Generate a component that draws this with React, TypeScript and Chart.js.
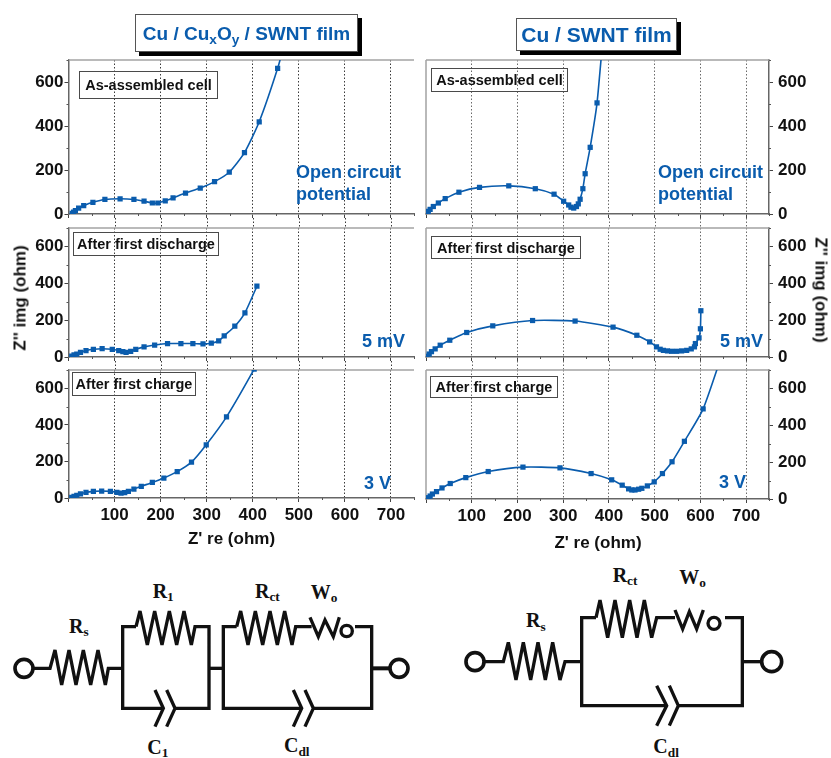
import React, { useEffect, useRef } from "react";
import { Chart, registerables } from "chart.js";

Chart.register(...registerables);

const BLUE = "#0a5cad";
const SANS = "'Liberation Sans', Arial, sans-serif";
const SERIF = "'Liberation Serif', 'Times New Roman', serif";

const xMinorTicks = [50, 150, 250, 350, 450, 550, 650, 750];
const yMinorTicks = [100, 300, 500, 700];

const oxideAssembledX = [8, 11, 15, 22, 33, 53, 79, 112, 142, 164, 182, 194, 210, 227, 254, 286, 317, 349, 382, 414, 454, 472];
const oxideAssembledY = [3, 9, 15, 27, 38, 53, 66, 69, 66, 58, 50, 50, 60, 73, 95, 118, 147, 190, 279, 419, 662, 800];

const oxideDischargeX = [7, 12, 18, 26, 38, 54, 73, 95, 109, 118, 125, 135, 146, 164, 187, 215, 244, 270, 292, 310, 326, 338, 361, 383, 409];
const oxideDischargeY = [5, 11, 16, 25, 35, 42, 45, 42, 35, 29, 25, 31, 42, 55, 65, 73, 73, 73, 71, 75, 87, 115, 167, 240, 384];

const oxideChargeX = [7, 12, 18, 26, 38, 54, 72, 91, 105, 114, 122, 130, 142, 158, 182, 207, 236, 267, 299, 343, 403, 430];
const oxideChargeY = [4, 9, 15, 22, 31, 36, 38, 36, 31, 27, 29, 36, 49, 64, 85, 109, 144, 196, 291, 444, 705, 840];

const bareAssembledX = [2, 5, 9, 16, 27, 42, 72, 117, 181, 239, 280, 301, 312, 317, 323, 329, 333, 337, 343, 348, 359, 374, 395];
const bareAssembledY = [3, 12, 21, 34, 50, 70, 99, 121, 128, 115, 90, 58, 41, 31, 27, 34, 46, 67, 115, 183, 303, 505, 1000];

const bareDischargeX = [2, 7, 12, 20, 31, 52, 89, 146, 233, 326, 409, 461, 489, 504, 512, 519, 528, 537, 548, 559, 570, 580, 587, 589, 597, 600, 601];
const bareDischargeY = [4, 16, 29, 44, 64, 91, 133, 169, 198, 195, 162, 118, 82, 55, 42, 36, 33, 31, 31, 33, 36, 44, 55, 73, 104, 153, 251];

const bareChargeX = [5, 9, 14, 23, 35, 53, 87, 136, 212, 293, 361, 406, 429, 443, 450, 457, 465, 472, 484, 499, 517, 538, 565, 606, 660];
const bareChargeY = [7, 16, 27, 40, 60, 84, 116, 149, 173, 169, 138, 104, 75, 55, 49, 49, 53, 58, 71, 93, 138, 202, 313, 489, 880];

type PanelSpec = {
  side: "left" | "right";
  top: number;
  bottom: number;
  xs: number[];
  ys: number[];
  xLabels: boolean;
  gap: number;
};

const panels: PanelSpec[] = [
  { side: "left", top: 60, bottom: 214, xs: oxideAssembledX, ys: oxideAssembledY, xLabels: false, gap: 14 },
  { side: "left", top: 228, bottom: 357, xs: oxideDischargeX, ys: oxideDischargeY, xLabels: false, gap: 13 },
  { side: "left", top: 370, bottom: 498, xs: oxideChargeX, ys: oxideChargeY, xLabels: true, gap: 0 },
  { side: "right", top: 60, bottom: 214, xs: bareAssembledX, ys: bareAssembledY, xLabels: false, gap: 14 },
  { side: "right", top: 228, bottom: 357, xs: bareDischargeX, ys: bareDischargeY, xLabels: false, gap: 13 },
  { side: "right", top: 370, bottom: 499, xs: bareChargeX, ys: bareChargeY, xLabels: true, gap: 0 },
];

function Panel({ spec }: { spec: PanelSpec }) {
  const ref = useRef<HTMLCanvasElement>(null);
  const isLeft = spec.side === "left";
  const canvasLeft = isLeft ? 0 : 415;
  const canvasWidth = isLeft ? 430 : 416;
  const padTop = 6;
  const under = 32;
  const canvasHeight = spec.bottom - spec.top + padTop + under;
  const gridColor = isLeft ? "#3a3a3a" : "#6a6a6a";

  useEffect(() => {
    const frame = {
      id: "panelFrame",
      beforeDatasetsDraw(chart: any) {
        const { ctx, chartArea: a, scales } = chart;
        ctx.save();
        ctx.strokeStyle = "#a3a3a3";
        ctx.lineWidth = 1.5;
        ctx.beginPath();
        ctx.moveTo(a.left, a.top);
        ctx.lineTo(a.right, a.top);
        if (!isLeft) {
          ctx.moveTo(a.left, a.top);
          ctx.lineTo(a.left, a.bottom);
        }
        ctx.stroke();
        ctx.strokeStyle = "#555";
        ctx.lineWidth = 1;
        ctx.beginPath();
        xMinorTicks.forEach((v) => {
          const p = Math.round(scales.x.getPixelForValue(v)) + 0.5;
          ctx.moveTo(p, a.bottom);
          ctx.lineTo(p, a.bottom + 2);
        });
        yMinorTicks.forEach((v) => {
          const p = Math.round(scales.y.getPixelForValue(v)) + 0.5;
          const edge = isLeft ? a.left : a.right;
          ctx.moveTo(edge, p);
          ctx.lineTo(edge + (isLeft ? -2 : 2), p);
        });
        ctx.stroke();
        if (spec.gap > 0) {
          ctx.strokeStyle = gridColor;
          ctx.setLineDash([1.5, 2]);
          ctx.beginPath();
          scales.x.ticks.forEach((t: any) => {
            if (t.value === 0) return;
            const p = Math.round(scales.x.getPixelForValue(t.value)) + 0.5;
            ctx.moveTo(p, a.bottom + 4);
            ctx.lineTo(p, a.bottom + spec.gap);
          });
          ctx.stroke();
        }
        ctx.restore();
      },
    };

    const chart = new Chart(ref.current as HTMLCanvasElement, {
      type: "scatter",
      plugins: [frame],
      data: {
        datasets: [
          {
            data: spec.xs.map((x, i) => ({ x, y: spec.ys[i] })),
            showLine: true,
            tension: 0.2,
            borderColor: BLUE,
            backgroundColor: BLUE,
            borderWidth: 1.6,
            pointStyle: "rect",
            pointRadius: 3.7,
            pointBorderWidth: 0,
          },
        ],
      },
      options: {
        animation: false,
        responsive: false,
        layout: {
          padding: { top: padTop, bottom: 0, left: isLeft ? 0 : 11, right: isLeft ? 16 : 0 },
        },
        plugins: { legend: { display: false }, tooltip: { enabled: false } },
        scales: {
          x: {
            type: "linear",
            min: 0,
            max: 750,
            afterFit: (s: any) => {
              s.height = under;
              s.paddingLeft = 0;
              s.paddingRight = 0;
            },
            border: { color: "#666", width: 1.5, dash: [1.5, 2] },
            grid: {
              color: (c: any) => (c.tick && c.tick.value === 0 ? "rgba(0,0,0,0)" : gridColor),
              tickColor: "#444",
              tickLength: 4,
              tickBorderDash: [],
              lineWidth: 1,
            },
            ticks: {
              stepSize: 100,
              includeBounds: false,
              autoSkip: false,
              maxRotation: 0,
              padding: 3,
              color: "#111",
              font: { family: SANS, size: 17, weight: "bold" },
              callback: (v: any) => (spec.xLabels && v !== 0 ? String(v) : ""),
            },
          },
          y: {
            type: "linear",
            position: isLeft ? "left" : "right",
            min: 0,
            max: 700,
            afterFit: (s: any) => {
              s.width = isLeft ? 68.5 : 62;
              s.paddingTop = 0;
              s.paddingBottom = 0;
            },
            border: { color: "#666", width: 1.5 },
            grid: { drawOnChartArea: false, tickColor: "#444", tickLength: 4 },
            ticks: {
              stepSize: 200,
              includeBounds: false,
              padding: isLeft ? 1 : 5,
              color: "#111",
              font: { family: SANS, size: 17, weight: "bold" },
            },
          },
        },
      },
    } as any);
    return () => chart.destroy();
  }, []);

  return (
    <canvas
      ref={ref}
      width={canvasWidth}
      height={canvasHeight}
      style={{
        position: "absolute",
        left: canvasLeft,
        top: spec.top - padTop,
        width: canvasWidth,
        height: canvasHeight,
      }}
    />
  );
}

function Txt(props: { x: number; y: number; c?: string; size?: number; children: React.ReactNode; center?: boolean; rot?: number }) {
  const { x, y, c = BLUE, size = 18, center, rot, children } = props;
  const tr = `${center ? "translate(-50%,-50%)" : "translateY(-50%)"}${rot ? ` rotate(${rot}deg)` : ""}`;
  return (
    <div
      style={{
        position: "absolute",
        left: x,
        top: y,
        color: c,
        fontFamily: SANS,
        fontWeight: "bold",
        fontSize: size,
        lineHeight: 1,
        whiteSpace: "nowrap",
        transform: tr,
      }}
    >
      {children}
    </div>
  );
}

function LabelBox(props: { l: number; t: number; r: number; b: number; text: string }) {
  const { l, t, r, b, text } = props;
  return (
    <div
      style={{
        position: "absolute",
        left: l,
        top: t,
        width: r - l,
        height: b - t,
        boxSizing: "border-box",
        border: "1.5px solid #4a4a4a",
        display: "flex",
        alignItems: "center",
        justifyContent: "center",
        color: "#111",
        fontFamily: SANS,
        fontWeight: "bold",
        fontSize: 14.5,
        whiteSpace: "nowrap",
      }}
    >
      {text}
    </div>
  );
}

function TitleBox(props: { l: number; t: number; r: number; b: number; size: number; children: React.ReactNode }) {
  const { l, t, r, b, size, children } = props;
  return (
    <div
      style={{
        position: "absolute",
        left: l,
        top: t,
        width: r - l,
        height: b - t,
        boxSizing: "border-box",
        background: "#fff",
        border: "1px solid #555",
        boxShadow: "4px 4px 0 #000",
        display: "flex",
        alignItems: "center",
        justifyContent: "center",
        color: BLUE,
        fontFamily: SANS,
        fontWeight: "bold",
        fontSize: size,
        lineHeight: 1,
        whiteSpace: "nowrap",
      }}
    >
      <span>{children}</span>
    </div>
  );
}

const subStyle: React.CSSProperties = { fontSize: "0.72em", verticalAlign: "-0.28em", lineHeight: 0 };

function CircuitLabel(props: { x: number; y: number; main: string; sub: string }) {
  return (
    <text x={props.x} y={props.y} fontFamily={SERIF} fontWeight="bold" fontSize={60} fill="#111">
      {props.main}
      <tspan fontSize={40} dy={10}>
        {props.sub}
      </tspan>
    </text>
  );
}

const wire = { fill: "none", stroke: "#111", strokeWidth: 10, strokeLinejoin: "miter" as const };

function LeftCircuit() {
  return (
    <svg viewBox="0 0 1260 609" width={420} height={203} style={{ position: "absolute", left: 0, top: 555 }}>
      <g {...wire}>
        <circle cx={72} cy={340} r={27} strokeWidth={11} />
        <path d="M99 340H150L165 285L185 390L207 285L228 390L250 285L272 390L294 285L316 390L325 340H368" />
        <path d="M408 215H368V460H490" />
        <path d="M408 215L420 168L442 270L464 168L486 270L508 168L530 270L552 168L574 270L585 215H627V460H525" />
        <path d="M465 405L490 460L465 515M500 405L525 460L500 515" />
        <path d="M627 340H670" />
        <path d="M710 215H670V460H905" />
        <path d="M710 215L722 168L744 270L766 168L788 270L810 168L832 270L854 168L876 270L887 215H935" />
        <path d="M930 187L955 245L975 195L1000 245L1018 187" />
        <circle cx={1040} cy={228} r={17} />
        <path d="M1065 215H1115V460H940" />
        <path d="M880 405L905 460L880 515M915 405L940 460L915 515" />
        <path d="M1115 340H1170" strokeWidth={12} />
        <circle cx={1197} cy={340} r={27} strokeWidth={11} />
      </g>
      <CircuitLabel x={207} y={233} main="R" sub="s" />
      <CircuitLabel x={458} y={128} main="R" sub="1" />
      <CircuitLabel x={765} y={128} main="R" sub="ct" />
      <CircuitLabel x={932} y={132} main="W" sub="o" />
      <CircuitLabel x={442} y={597} main="C" sub="1" />
      <CircuitLabel x={852} y={592} main="C" sub="dl" />
    </svg>
  );
}

function RightCircuit() {
  return (
    <svg viewBox="0 0 1173 609" width={391} height={203} style={{ position: "absolute", left: 440, top: 555 }}>
      <g {...wire}>
        <circle cx={105} cy={320} r={27} strokeWidth={11} />
        <path d="M132 320H190L205 262L228 375L250 262L272 375L294 262L316 375L338 262L360 375L375 320H425" />
        <path d="M468 188H425V452H680" />
        <path d="M468 188L480 135L503 248L525 135L547 248L569 135L591 248L613 135L635 248L650 188H705" />
        <path d="M705 165L728 222L748 170L770 222L790 165" />
        <circle cx={822} cy={205} r={18} />
        <path d="M855 188H907V452H715" />
        <path d="M650 392L680 452L650 512M688 392L715 452L688 512" />
        <path d="M907 320H965" />
        <circle cx={995} cy={320} r={30} strokeWidth={11} />
      </g>
      <CircuitLabel x={258} y={217} main="R" sub="s" />
      <CircuitLabel x={518} y={80} main="R" sub="ct" />
      <CircuitLabel x={718} y={86} main="W" sub="o" />
      <CircuitLabel x={640} y={595} main="C" sub="dl" />
    </svg>
  );
}

export default function App() {
  return (
    <div style={{ position: "absolute", left: 0, top: 0, width: 831, height: 758, background: "#fff", overflow: "hidden" }}>
      {panels.map((p, i) => (
        <Panel key={i} spec={p} />
      ))}

      <TitleBox l={135} t={14} r={358} b={52} size={19}>
        Cu / Cu<sub style={subStyle}>x</sub>O<sub style={subStyle}>y</sub> / SWNT film
      </TitleBox>
      <TitleBox l={516} t={18} r={677} b={51} size={21}>
        Cu / SWNT film
      </TitleBox>

      <LabelBox l={79} t={71} r={218} b={99} text="As-assembled cell" />
      <LabelBox l={431} t={68} r={568} b={92} text="As-assembled cell" />
      <LabelBox l={73} t={232} r={219} b={256} text="After first discharge" />
      <LabelBox l={431} t={236} r={581} b={259} text="After first discharge" />
      <LabelBox l={72} t={372} r={196} b={396} text="After first charge" />
      <LabelBox l={430} t={376} r={558} b={398} text="After first charge" />

      <Txt x={296} y={172}>Open circuit</Txt>
      <Txt x={296} y={194}>potential</Txt>
      <Txt x={658} y={172}>Open circuit</Txt>
      <Txt x={658} y={194}>potential</Txt>
      <Txt x={362} y={341}>5 mV</Txt>
      <Txt x={720} y={341}>5 mV</Txt>
      <Txt x={364} y={483}>3 V</Txt>
      <Txt x={719} y={482}>3 V</Txt>

      <Txt x={231.5} y={538} c="#111" size={17} center>Z' re (ohm)</Txt>
      <Txt x={598} y={542} c="#111" size={17} center>Z' re (ohm)</Txt>
      <Txt x={20} y={298} c="#111" size={17} center rot={-90}>Z'' img (ohm)</Txt>
      <Txt x={821} y={290} c="#111" size={17} center rot={90}>Z'' img (ohm)</Txt>

      <LeftCircuit />
      <RightCircuit />
    </div>
  );
}
